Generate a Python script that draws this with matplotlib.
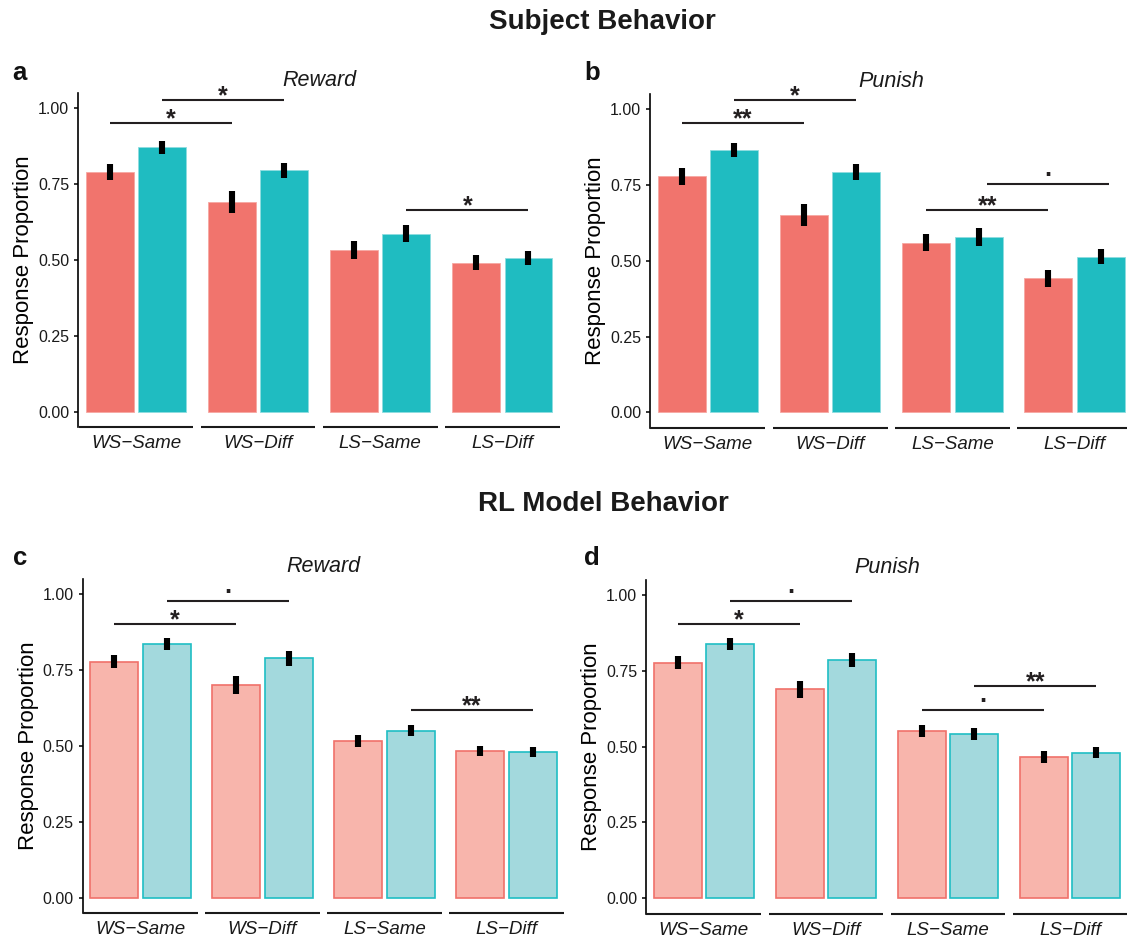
import matplotlib
matplotlib.use("Agg")
import matplotlib.pyplot as plt
import numpy as np
from matplotlib.textpath import TextPath
from matplotlib.font_manager import FontProperties
from matplotlib.transforms import offset_copy

plt.rcParams['font.family'] = ['Liberation Sans', 'DejaVu Sans']

# ---------------- data ----------------
categories = ["WS\u2212Same", "WS\u2212Diff", "LS\u2212Same", "LS\u2212Diff"]
tick_values = [0.0, 0.25, 0.5, 0.75, 1.0]
tick_labels = ["0.00", "0.25", "0.50", "0.75", "1.00"]

# Subject behavior – Reward (panel a)
a_red = [0.789, 0.689, 0.531, 0.490]
a_red_err = [0.027, 0.036, 0.029, 0.024]
a_cyan = [0.870, 0.794, 0.585, 0.505]
a_cyan_err = [0.021, 0.025, 0.028, 0.024]
a_sig = [(0.785, 1.785, 0.951, "*"), (1.215, 2.215, 1.025, "*"), (3.215, 4.215, 0.663, "*")]

# Subject behavior – Punish (panel b)
b_red = [0.779, 0.651, 0.559, 0.442]
b_red_err = [0.028, 0.036, 0.028, 0.028]
b_cyan = [0.866, 0.794, 0.579, 0.513]
b_cyan_err = [0.023, 0.026, 0.030, 0.025]
b_sig = [(0.785, 1.785, 0.956, "**"), (1.215, 2.215, 1.031, "*"),
         (2.785, 3.785, 0.668, "**"), (3.28, 4.28, 0.754, ".")]

# RL model – Reward (panel c)
c_red = [0.777, 0.700, 0.517, 0.483]
c_red_err = [0.022, 0.030, 0.020, 0.016]
c_cyan = [0.836, 0.788, 0.550, 0.480]
c_cyan_err = [0.019, 0.025, 0.018, 0.017]
c_sig = [(0.785, 1.785, 0.901, "*"), (1.215, 2.215, 0.977, "."), (3.215, 4.215, 0.618, "**")]

# RL model – Punish (panel d)
d_red = [0.777, 0.690, 0.552, 0.466]
d_red_err = [0.021, 0.028, 0.019, 0.019]
d_cyan = [0.838, 0.786, 0.542, 0.480]
d_cyan_err = [0.019, 0.023, 0.020, 0.018]
d_sig = [(0.785, 1.785, 0.905, "*"), (1.215, 2.215, 0.981, "."),
         (2.785, 3.785, 0.621, "."), (3.215, 4.215, 0.700, "**")]

# ---------------- layout ----------------
W, H = 1127, 941
fig = plt.figure(figsize=(W / 100, H / 100), dpi=100)


def rect(left, top, width, bottom):
    return [left / W, 1 - bottom / H, width / W, (bottom - top) / H]


BAR_W = 0.393
OFF = 0.215
TEXT_COL = "#1a1a1a"


def panel(r, red, red_err, cyan, cyan_err, sig, title, letter, letter_xy, light):
    ax = fig.add_axes(r)
    x = np.arange(1, len(categories) + 1)
    if light:
        ax.bar(x - OFF, red, width=BAR_W, color="#F8B5AC", edgecolor="#F0716A", linewidth=1.2, zorder=2)
        ax.bar(x + OFF, cyan, width=BAR_W, color="#A3D9DD", edgecolor="#1FBEC4", linewidth=1.2, zorder=2)
    else:
        ax.bar(x - OFF, red, width=BAR_W, color="#F1746D", edgecolor="#F6A8A3", linewidth=0.6, zorder=2)
        ax.bar(x + OFF, cyan, width=BAR_W, color="#1FBCC1", edgecolor="#8FDCDF", linewidth=0.6, zorder=2)
    r_arr, c_arr = np.array(red), np.array(cyan)
    ax.vlines(x - OFF, r_arr - np.array(red_err), r_arr + np.array(red_err), colors="black", linewidth=4.4, zorder=3)
    ax.vlines(x + OFF, c_arr - np.array(cyan_err), c_arr + np.array(cyan_err), colors="black", linewidth=4.4, zorder=3)

    ax.set_xlim(0.527, 4.473)
    ax.set_ylim(-0.05, 1.05)
    for s in ["top", "right", "bottom"]:
        ax.spines[s].set_visible(False)
    ax.spines["left"].set_linewidth(1.2)
    ax.spines["left"].set_color("black")
    for xi in x:
        ax.plot([xi - 0.47, xi + 0.47], [-0.05, -0.05], color="#1a1a1a", lw=1.5,
                solid_capstyle="butt", clip_on=False, zorder=4)

    ax.set_yticks(tick_values)
    ax.set_yticklabels(tick_labels, fontsize=11.5, color=TEXT_COL)
    ax.tick_params(axis="y", length=3.2, width=1.1, pad=3.2, color="black")
    ax.set_xticks(x)
    ax.set_xticklabels(categories, fontsize=13.5, style="italic", color=TEXT_COL)
    ax.tick_params(axis="x", length=0, pad=6)
    ax.set_ylabel("Response Proportion", fontsize=16, color="black", va="center")
    ax.yaxis.set_label_coords(-0.113, 0.5)

    ax.text(0.5, 1.0 + 12.5 / (r[3] * H), title, transform=ax.transAxes, ha="center", va="center",
            fontsize=15.5, style="italic", color=TEXT_COL)
    fig.text(letter_xy[0] / W, 1 - letter_xy[1] / H, letter, fontsize=18.5, fontweight="bold",
             ha="left", va="baseline", color="#111111")

    # significance brackets
    for x0, x1, y, lab in sig:
        ax.plot([x0, x1], [y, y], color="#231F20", lw=1.5, solid_capstyle="butt", clip_on=False, zorder=4)
        fp = FontProperties(family=["Liberation Sans"], size=18, weight="bold")
        ext = TextPath((0, 0), lab, prop=fp).get_extents()
        ink_c = (ext.y0 + ext.y1) / 2.0
        want_px = 10.0 if lab == "." else 9.0
        dy = want_px * 0.72 - ink_c
        tr = offset_copy(ax.transData, fig=fig, y=dy, units="points")
        ax.text((x0 + x1) / 2, y, lab, transform=tr, ha="center", va="baseline",
                fontproperties=fp, color="#231F20", clip_on=False)
    return ax


panel(rect(78.2, 92.5, 481.8, 426.9), a_red, a_red_err, a_cyan, a_cyan_err, a_sig, "Reward", "a", (12.5, 80), False)
panel(rect(650.0, 94.2, 482.5, 427.5), b_red, b_red_err, b_cyan, b_cyan_err, b_sig, "Punish", "b", (584, 80), False)
panel(rect(82.5, 578.8, 482.0, 912.9), c_red, c_red_err, c_cyan, c_cyan_err, c_sig, "Reward", "c", (12.5, 565), True)
panel(rect(646.0, 579.8, 482.0, 913.5), d_red, d_red_err, d_cyan, d_cyan_err, d_sig, "Punish", "d", (584, 565), True)

fig.text(602 / W, 1 - 29 / H, "Subject Behavior", fontsize=20, fontweight="bold", ha="center", va="baseline",
         color="#1a1a1a")
fig.text(603 / W, 1 - 511 / H, "RL Model Behavior", fontsize=20, fontweight="bold", ha="center", va="baseline",
         color="#1a1a1a")

fig.savefig("out.png", dpi=100, facecolor="white")
